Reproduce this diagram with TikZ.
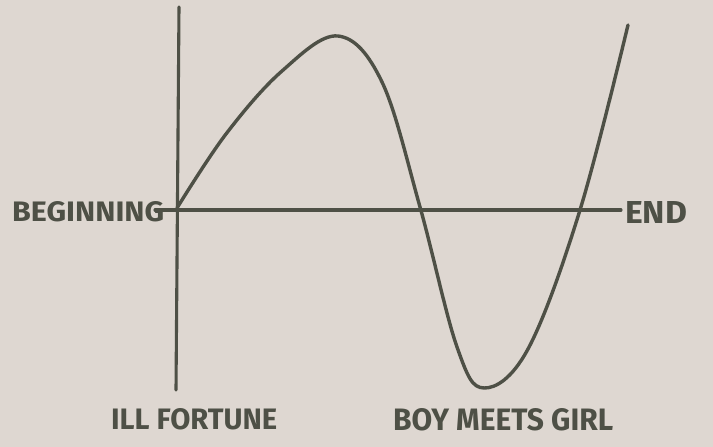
\documentclass[tikz,border=0pt]{standalone}
\usepackage{fontspec}
\setmainfont{Fira Sans}
\usepackage{graphicx}
\definecolor{paper}{RGB}{222,215,209}
\definecolor{pencil}{RGB}{78,80,70}
\tikzset{
  pen/.style={draw=pencil, line width=3.4pt, line cap=round, line join=round},
  lbl/.style={text=pencil, font=\fontseries{sb}\fontsize{22}{22}\selectfont, inner sep=0pt, anchor=west},
}
\begin{document}
\begin{tikzpicture}[x=1pt,y=-1pt]
\fill[paper] (0,0) rectangle (713,447);
\useasboundingbox (0,0) rectangle (713,447);
% axes
\coordinate (vtop) at (179,7);
\coordinate (vbot) at (176,390);
\coordinate (hl) at (155,210);
\coordinate (hr) at (621,210);
\draw[pen, line width=3.1pt] (vtop) -- (vbot);
\draw[pen, line width=3.1pt] (hl) -- (hr);
% curve
\draw[pen] plot[smooth, tension=0.6] coordinates {
 (177,208) (226,134) (282,71) (338,36) (382,82) (420,207)
 (457,347) (484,388) (528,349) (580,210) (628,25)};
% labels
\node[lbl] (beg) at (12,212) {\resizebox{152pt}{20pt}{BEGINNING}};
\node[lbl] (end) at (625,212) {\resizebox{62pt}{22pt}{END}};
\node[lbl] (ill) at (111,419) {\resizebox{166pt}{21pt}{ILL FORTUNE}};
\node[lbl] (boy) at (393,420) {\resizebox{220pt}{22pt}{BOY MEETS GIRL}};
\end{tikzpicture}
\end{document}
